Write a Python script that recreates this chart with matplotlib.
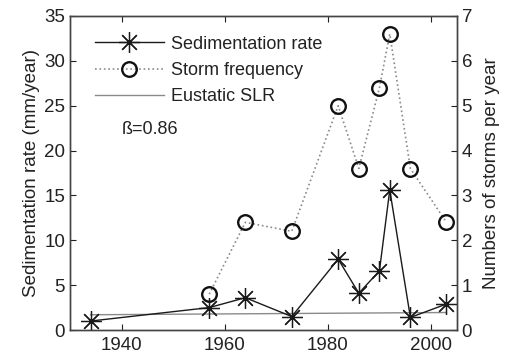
import matplotlib
matplotlib.use("Agg")
import matplotlib.pyplot as plt

plt.rcParams['font.family'] = ['Liberation Sans', 'DejaVu Sans']

sed_years = [1934, 1957, 1964, 1973, 1982, 1986, 1990, 1992, 1996, 2003]
sed_rate = [1.0, 2.5, 3.6, 1.5, 7.9, 4.1, 6.6, 15.6, 1.4, 2.9]

storm_years = [1957, 1964, 1973, 1982, 1986, 1990, 1992, 1996, 2003]
storm_freq = [0.8, 2.4, 2.2, 5.0, 3.6, 5.4, 6.6, 3.6, 2.4]

slr_years = [1934, 2003]
slr_rate = [1.7, 1.95]

x_ticks = [1940, 1960, 1980, 2000]
left_ticks = [0, 5, 10, 15, 20, 25, 30, 35]
right_ticks = [0, 1, 2, 3, 4, 5, 6, 7]

fig = plt.figure(figsize=(5.07, 3.6), dpi=100)
ax = fig.add_axes([0.138, 0.0833, 0.763, 0.8723])
ax2 = ax.twinx()

asterisk = (8, 2, 0)
l1, = ax.plot(sed_years, sed_rate, color='#1a1a1a', lw=1.0, marker=asterisk,
              ms=15, mew=0.9, mec='#1a1a1a', zorder=3)
l3, = ax.plot(slr_years, slr_rate, color='#8a8a8a', lw=1.0, zorder=2)
l2, = ax2.plot(storm_years, storm_freq, color='#8a8a8a', lw=1.2, ls=':',
               marker='o', ms=10.5, mfc='none', mec='#111111', mew=1.7)

ax.set_xlim(1930, 2005)
ax.set_ylim(0, 35)
ax2.set_ylim(0, 7)
ax.set_xticks(x_ticks)
ax.set_yticks(left_ticks)
ax2.set_yticks(right_ticks)

for a in (ax, ax2):
    a.tick_params(direction='in', length=4, width=0.8, labelsize=13.5,
                  colors='#222222', top=True)
    for s in a.spines.values():
        s.set_color('#444444')
        s.set_linewidth(1.0)
ax.tick_params(axis='x', pad=5)

ax.set_ylabel('Sedimentation rate (mm/year)', fontsize=13.5, color='#222222', labelpad=3)
ax2.set_ylabel('Numbers of storms per year', fontsize=13.5, color='#222222', labelpad=8)

ax.text(1940, 22.4, 'ß=0.86', fontsize=13, color='#222222', va='center')

ax.legend([l1, l2, l3], ['Sedimentation rate', 'Storm frequency', 'Eustatic SLR'],
          loc='upper left', bbox_to_anchor=(0.018, 0.995), frameon=False, fontsize=13,
          handlelength=3.8, handletextpad=0.4, labelspacing=0.52, borderaxespad=0.6,
          labelcolor='#222222')

fig.savefig('out.png', dpi=100)
